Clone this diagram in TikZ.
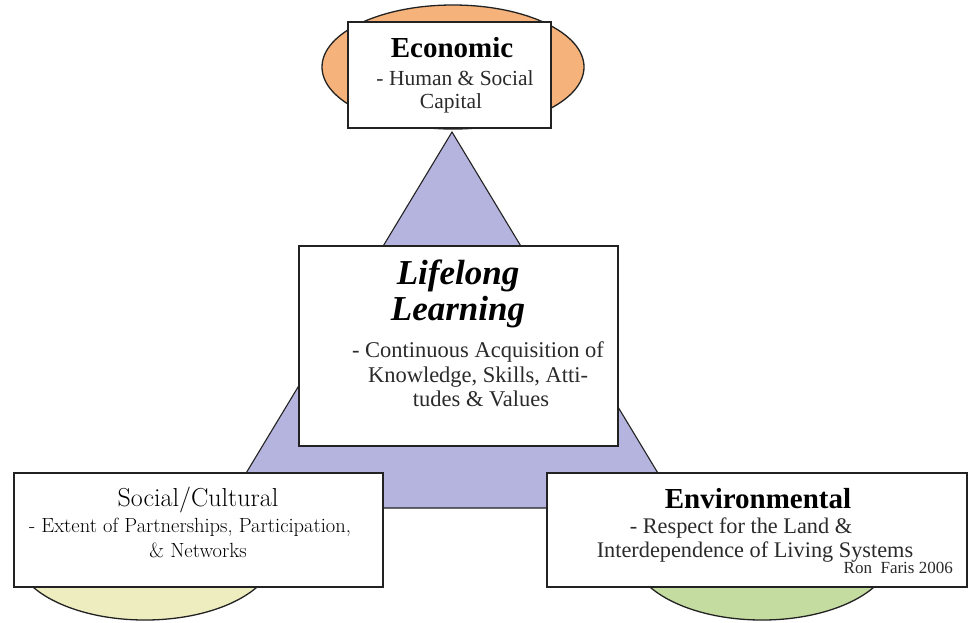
\documentclass[tikz,border=0pt]{standalone}
\usepackage{fontspec}
\usetikzlibrary{shapes.geometric}
\newfontfamily\tms{Liberation Serif}[BoldFont={Liberation Serif Bold},ItalicFont={Liberation Serif Italic},BoldItalicFont={Liberation Serif Bold Italic}]
\definecolor{orangeF}{HTML}{F5B27A}
\definecolor{purpleF}{HTML}{B4B4DE}
\definecolor{yellowF}{HTML}{EDEDC0}
\definecolor{greenF}{HTML}{C4DCA0}
\definecolor{edgeC}{HTML}{222222}
\definecolor{subC}{HTML}{2A2A2A}
\tikzset{
  boxnode/.style={draw=edgeC, line width=1.4pt, fill=white, inner sep=0pt, outer sep=0pt},
  ellnode/.style={ellipse, draw=edgeC, line width=1.3pt, inner sep=0pt},
  ttl/.style={anchor=base, inner sep=0pt, text=black, font=\tms\bfseries\fontsize{29}{29}\selectfont},
  subl/.style={anchor=base, inner sep=0pt, text=subC, font=\tms\fontsize{21.5}{22}\selectfont},
  bigttl/.style={anchor=base, inner sep=0pt, text=black, font=\tms\bfseries\itshape\fontsize{35}{35}\selectfont},
}
\begin{document}
\begin{tikzpicture}[x=1pt,y=-1pt]
\useasboundingbox (0,0) rectangle (968,622);
\fill[white] (0,0) rectangle (968,622);
% ellipses
\node[ellnode, fill=orangeF, minimum width=262pt, minimum height=124pt] (ecoell) at (453,67) {};
\node[ellnode, fill=yellowF, minimum width=260pt, minimum height=134pt] (socell) at (145,553) {};
\node[ellnode, fill=greenF, minimum width=260pt, minimum height=134pt] (envell) at (762,553) {};
% triangle
\coordinate (tA) at (452,132);
\coordinate (tL) at (225,508);
\coordinate (tR) at (679,508);
\filldraw[fill=purpleF, draw=edgeC, line width=1.1pt] (tA) -- (tL) -- (tR) -- cycle;
% boxes
\node[boxnode, minimum width=203pt, minimum height=106pt] (eco) at (449.5,75) {};
\node[boxnode, minimum width=319pt, minimum height=200pt] (lll) at (458.5,346) {};
\node[boxnode, minimum width=369pt, minimum height=114pt] (soc) at (198.5,530) {};
\node[boxnode, minimum width=420pt, minimum height=114pt] (env) at (757,530) {};
% Economic text
\node[ttl] (ecot) at (452,57) {Economic};
\node[subl] (ecos1) at (455,85) {- Human \& Social};
\node[subl] (ecos2) at (451,108) {Capital};
% Lifelong Learning text
\node[bigttl] (llt1) at (458,284) {Lifelong};
\node[bigttl] (llt2) at (458,320) {Learning};
\node[subl, font=\tms\fontsize{22.5}{23}\selectfont] (lls1) at (478,357) {- Continuous Acquisition of};
\node[subl, font=\tms\fontsize{22.5}{23}\selectfont] (lls2) at (478,382) {Knowledge, Skills, Atti-};
\node[subl, font=\tms\fontsize{22.5}{23}\selectfont] (lls3) at (481,406) {tudes \& Values};
% Social text
\node[anchor=base, inner sep=0pt, text=black, font=\fontsize{26}{26}\selectfont] (soct) at (198,506) {Social/Cultural};
\node[anchor=base, inner sep=0pt, text=black, font=\fontsize{20.5}{21}\selectfont] (socs1) at (190,532) {- Extent of Partnerships, Participation,};
\node[anchor=base, inner sep=0pt, text=black, font=\fontsize{20.5}{21}\selectfont] (socs2) at (198,557) {\& Networks};
% Environmental text
\node[ttl] (envt) at (758,508) {Environmental};
\node[subl, font=\tms\fontsize{22.3}{23}\selectfont] (envs1) at (741,533) {- Respect for the Land \&};
\node[subl, font=\tms\fontsize{22.3}{23}\selectfont] (envs2) at (755,557) {Interdependence of Living Systems};
\node[anchor=base east, inner sep=0pt, text=subC, font=\tms\fontsize{17}{17}\selectfont] (envc) at (953,573) {Ron\ \ Faris 2006};
\end{tikzpicture}
\end{document}
